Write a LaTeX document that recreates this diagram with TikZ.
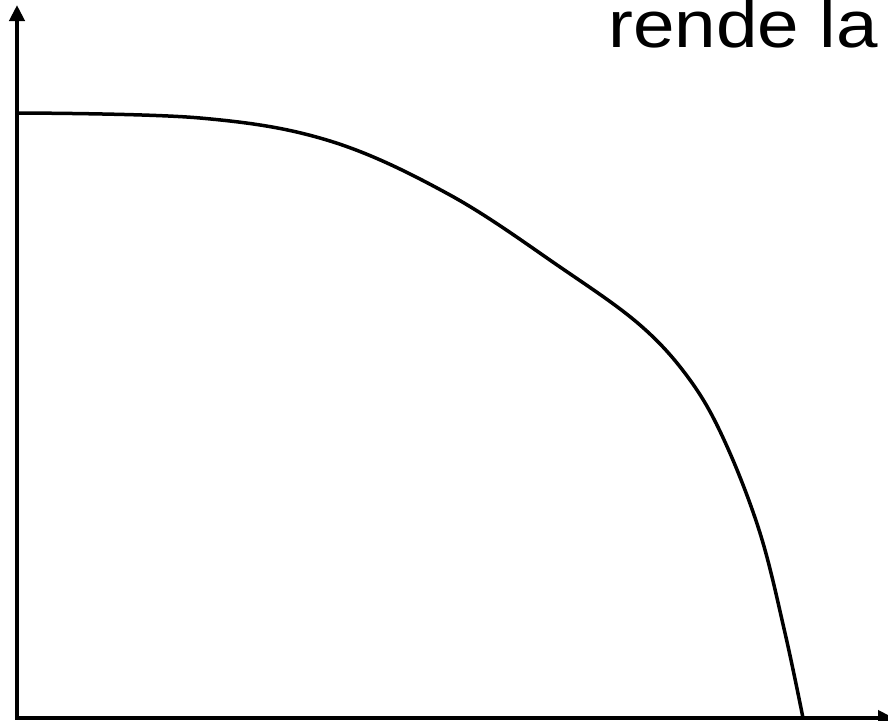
\documentclass[tikz,border=0pt]{standalone}
\usepackage{fontspec}
\setmainfont{Liberation Sans}
\usetikzlibrary{arrows.meta}

\begin{document}
\begin{tikzpicture}[x=1pt,y=-1pt,>={Triangle[length=16pt,width=15pt]},
  axis/.style={line width=4pt,->},
  curve/.style={line width=3.5pt,line join=round}]
  \useasboundingbox (0,0) rectangle (888,720);
  \coordinate (O) at (17,718);
  \coordinate (ytop) at (17,5);
  \coordinate (xend) at (894,718);
  \draw[axis] ([yshift=2pt]O) -- (ytop);
  \draw[axis] ([xshift=-2pt]O) -- (xend);
  \draw[curve] plot[smooth,tension=0.6] coordinates {(17,113) (200,118) (330,141) (450,195) (560,267) (640,325) (690,380) (725,442) (760,533) (785,633) (803,718)};
  \node[anchor=base west,inner sep=0pt,xscale=1.13,font=\fontsize{66}{72}\selectfont] (label) at (608,47) {rende la};
\end{tikzpicture}
\end{document}
